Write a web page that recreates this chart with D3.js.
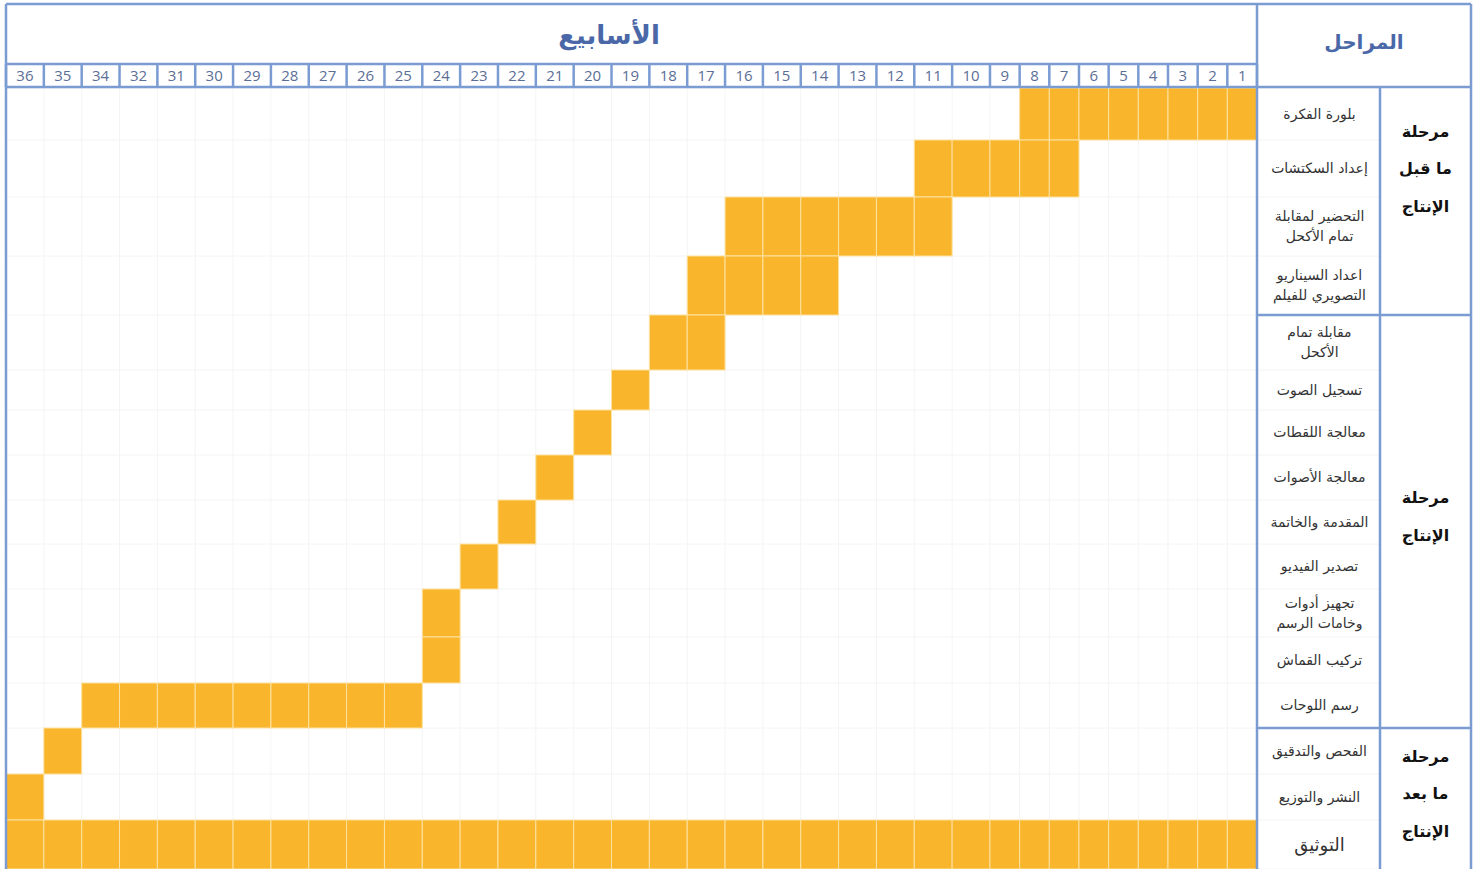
<!DOCTYPE html>
<html>
<head>
<meta charset="utf-8">
<style>
body { margin: 0; background: #fff; }
svg { display: block; }
.num { font-family: 'Open Sans', sans-serif; font-size: 15px; fill: #5b6e96; }
.task { font-family: 'DejaVu Sans', sans-serif; font-size: 14px; fill: #333; }
.phase { font-family: 'DejaVu Sans', sans-serif; font-size: 16px; font-weight: bold; fill: #111; }
.title { font-family: 'DejaVu Sans', sans-serif; font-weight: bold; fill: #4a68a8; }
</style>
</head>
<body>
<svg></svg>
<script src="https://cdn.jsdelivr.net/npm/d3@7"></script>
<script>

// week columns, left to right (33 is missing in the original sheet)
const weeks = ['36','35','34','32','31','30','29','28','27','26','25','24','23','22','21','20','19','18','17','16','15','14','13','12','11','10','9','8','7','6','5','4','3','2','1'];

// tasks, top to bottom ('|' = line break)
const tasks = [
    'بلورة الفكرة',
    'إعداد السكتشات',
    'التحضير لمقابلة|تمام الأكحل',
    'اعداد السيناريو|التصويري للفيلم',
    'مقابلة تمام|الأكحل',
    'تسجيل الصوت',
    'معالجة اللقطات',
    'معالجة الأصوات',
    'المقدمة والخاتمة',
    'تصدير الفيديو',
    'تجهيز أدوات|وخامات الرسم',
    'تركيب القماش',
    'رسم اللوحات',
    'الفحص والتدقيق',
    'النشر والتوزيع',
    'التوثيق',
];
const taskStart = [1, 7, 11, 14, 17, 19, 20, 21, 22, 23, 24, 24, 25, 35, 36, 1];
const taskEnd   = [8, 11, 16, 17, 18, 19, 20, 21, 22, 23, 24, 24, 34, 35, 36, 36];

const phases = ['مرحلة|ما قبل|الإنتاج', 'مرحلة|الإنتاج', 'مرحلة|ما بعد|الإنتاج'];
const phaseRowCount = [4, 9, 3];

const weeksTitle = 'الأسابيع';
const phasesTitle = 'المراحل';

// layout
const width = 1479, height = 869;
const blue = '#7b9bd3';
const barColor = '#f9b52b';
const gridLeft = 6, gridRight = 1257, gridTop = 88, gridBottom = 869;
const headTop = 4, numTop = 64, numBottom = 87;
const labelRight = 1380, phaseRight = 1471;
const rowUnits = [52, 57, 59, 59, 55, 40, 45, 45, 44, 45, 48, 46, 45, 46, 46, 49];
const phaseShift = [-33, -5, -5];

const svg = d3.select('svg').attr('width', width).attr('height', height);

// columns: weeks 1-9 are narrower than the others
const colUnit = w => (+w <= 9 ? 0.784 : 1);
const colEdges = [0];
weeks.forEach(w => colEdges.push(colEdges[colEdges.length - 1] + colUnit(w)));
const x = d3.scaleLinear().domain([0, colEdges[colEdges.length - 1]]).range([gridLeft, gridRight]);
const colX = w => x(colEdges[weeks.indexOf(w)]);
const colW = w => x(colEdges[weeks.indexOf(w) + 1]) - colX(w);

const rowEdges = [0];
rowUnits.forEach(u => rowEdges.push(rowEdges[rowEdges.length - 1] + u));
const y = d3.scaleLinear().domain([0, rowEdges[rowEdges.length - 1]]).range([gridTop, gridBottom]);

// faint grid
const grid = svg.append('g').attr('stroke', '#f4f4f4').attr('stroke-width', 1);
colEdges.forEach(c => grid.append('line')
    .attr('x1', x(c)).attr('x2', x(c)).attr('y1', gridTop).attr('y2', gridBottom));
rowEdges.forEach(r => grid.append('line')
    .attr('x1', gridLeft).attr('x2', labelRight).attr('y1', y(r)).attr('y2', y(r)));

// bars, one cell per week
const cells = [];
tasks.forEach((t, i) => {
    weeks.forEach(w => {
        if (+w >= taskStart[i] && +w <= taskEnd[i]) cells.push({row: i, week: w});
    });
});
svg.append('g').selectAll('rect').data(cells).join('rect')
    .attr('x', d => colX(d.week))
    .attr('y', d => y(rowEdges[d.row]))
    .attr('width', d => colW(d.week))
    .attr('height', d => y(rowEdges[d.row + 1]) - y(rowEdges[d.row]))
    .attr('fill', barColor)
    .attr('stroke', '#fde2a2')
    .attr('stroke-width', 1);

// task labels
tasks.forEach((t, i) => {
    const lines = t.split('|');
    const cy = (y(rowEdges[i]) + y(rowEdges[i + 1])) / 2;
    const lh = 20;
    const txt = svg.append('text').attr('class', 'task')
        .attr('text-anchor', 'middle').attr('direction', 'rtl')
        .style('font-size', i === tasks.length - 1 ? '18px' : null);
    lines.forEach((l, k) => txt.append('tspan')
        .attr('x', (gridRight + labelRight) / 2 + 1)
        .attr('y', cy + (k - (lines.length - 1) / 2) * lh)
        .attr('dy', '0.35em')
        .text(l));
});

// phase labels
let rowAcc = 0;
const phaseEdges = [0];
phases.forEach((p, i) => {
    const r0 = rowAcc, r1 = rowAcc + phaseRowCount[i];
    rowAcc = r1;
    phaseEdges.push(r1);
    const lines = p.split('|');
    const cy = (y(rowEdges[r0]) + Math.min(y(rowEdges[r1]), gridBottom)) / 2 + phaseShift[i];
    const txt = svg.append('text').attr('class', 'phase').attr('text-anchor', 'middle');
    lines.forEach((l, k) => txt.append('tspan')
        .attr('x', (labelRight + phaseRight) / 2)
        .attr('y', cy + (k - (lines.length - 1) / 2) * 37.5)
        .attr('dy', '0.35em')
        .text(l));
});

// header titles
svg.append('text').attr('class', 'title')
    .attr('x', 609).attr('y', (headTop + numTop) / 2 + 1)
    .attr('dy', '0.35em').attr('text-anchor', 'middle')
    .style('font-size', '26px').text(weeksTitle);
svg.append('text').attr('class', 'title')
    .attr('x', (gridRight + phaseRight) / 2).attr('y', 42)
    .attr('dy', '0.35em').attr('text-anchor', 'middle')
    .style('font-size', '20px').text(phasesTitle);

// week numbers
svg.append('g').selectAll('text').data(weeks).join('text')
    .attr('class', 'num')
    .attr('x', w => colX(w) + colW(w) / 2)
    .attr('y', (numTop + numBottom) / 2)
    .attr('dy', '0.36em')
    .attr('text-anchor', 'middle')
    .text(w => w);

// blue frame
const frame = svg.append('g').attr('stroke', blue).attr('stroke-width', 2.5).attr('fill', 'none');
const seg = (x1, y1, x2, y2) => frame.append('line').attr('x1', x1).attr('y1', y1).attr('x2', x2).attr('y2', y2);
seg(gridLeft, headTop, phaseRight, headTop);
seg(gridLeft, headTop, gridLeft, height);
seg(phaseRight, headTop, phaseRight, height);
seg(gridRight, headTop, gridRight, height);
seg(labelRight, numBottom, labelRight, height);
seg(gridLeft, numTop, gridRight, numTop);
seg(gridLeft, numBottom, phaseRight, numBottom);
colEdges.forEach(c => seg(x(c), numTop, x(c), numBottom));
phaseEdges.slice(1, -1).forEach(r => seg(gridRight, y(rowEdges[r]), phaseRight, y(rowEdges[r])));

</script>
</body>
</html>
